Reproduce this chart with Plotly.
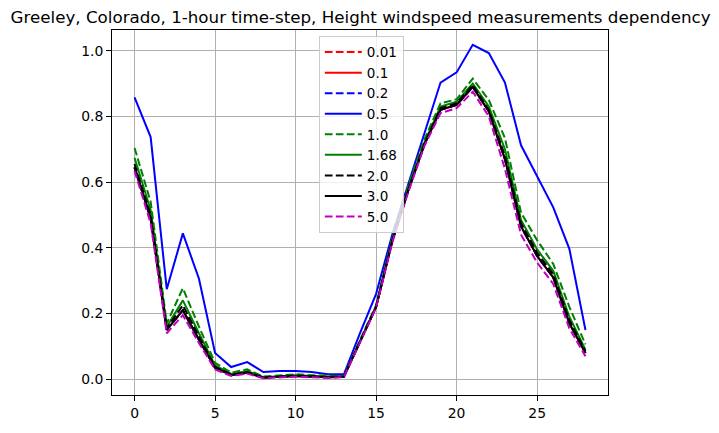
import plotly.graph_objects as go

hours = list(range(29))

heights = ["0.01", "0.1", "0.2", "0.5", "1.0", "1.68", "2.0", "3.0", "5.0"]
colors = ["#ff0000", "#ff0000", "#0000ff", "#0000ff", "#008000", "#008000", "#000000", "#000000", "#bf00bf"]
dashed = [True, False, True, False, True, False, True, False, True]

h3_0 = [0.645, 0.49, 0.15, 0.21, 0.12, 0.035, 0.013, 0.02, 0.005, 0.008, 0.01, 0.008, 0.006, 0.008,
        0.115, 0.22, 0.42, 0.575, 0.715, 0.82, 0.835, 0.89, 0.815, 0.67, 0.465, 0.375, 0.31, 0.17, 0.08]
h0_01 = list(h3_0)
h0_1 = list(h3_0)
h0_2 = list(h3_0)
h0_5 = [0.858, 0.737, 0.274, 0.444, 0.306, 0.080, 0.037, 0.052, 0.022, 0.025, 0.025, 0.022, 0.015, 0.015,
        0.14, 0.26, 0.44, 0.593, 0.75, 0.903, 0.934, 1.018, 0.993, 0.903, 0.712, 0.615, 0.523, 0.397, 0.150]
h1_0 = [0.704, 0.54, 0.17, 0.277, 0.16, 0.05, 0.02, 0.03, 0.008, 0.012, 0.015, 0.012, 0.01, 0.01,
        0.12, 0.225, 0.43, 0.59, 0.73, 0.84, 0.852, 0.915, 0.85, 0.734, 0.507, 0.423, 0.351, 0.22, 0.106]
h1_68 = [0.674, 0.515, 0.16, 0.24, 0.14, 0.042, 0.016, 0.025, 0.006, 0.01, 0.012, 0.01, 0.008, 0.009,
         0.118, 0.222, 0.425, 0.58, 0.72, 0.83, 0.845, 0.9, 0.83, 0.70, 0.485, 0.395, 0.33, 0.19, 0.09]
h2_0 = [0.655, 0.5, 0.155, 0.225, 0.13, 0.038, 0.014, 0.022, 0.005, 0.009, 0.011, 0.009, 0.007, 0.008,
        0.116, 0.221, 0.422, 0.577, 0.717, 0.825, 0.84, 0.895, 0.82, 0.68, 0.475, 0.385, 0.32, 0.18, 0.085]
h5_0 = [0.634, 0.475, 0.14, 0.195, 0.11, 0.03, 0.01, 0.017, 0.003, 0.006, 0.008, 0.006, 0.004, 0.006,
        0.112, 0.218, 0.415, 0.57, 0.71, 0.81, 0.825, 0.875, 0.80, 0.64, 0.44, 0.355, 0.29, 0.155, 0.07]

series = [h0_01, h0_1, h0_2, h0_5, h1_0, h1_68, h2_0, h3_0, h5_0]

fig = go.Figure()
for name, col, d, ys in zip(heights, colors, dashed, series):
    fig.add_trace(go.Scatter(
        x=hours, y=ys, mode="lines", name=name,
        line=dict(color=col, width=2, dash="7.7px,3.3px" if d else "solid"),
    ))

font = "DejaVu Sans"
axis_common = dict(
    showgrid=True, gridcolor="#b0b0b0", gridwidth=0.8,
    showline=True, linecolor="black", linewidth=1, mirror=True,
    ticks="outside", ticklen=5, tickwidth=1, tickcolor="black",
    zeroline=False, tickfont=dict(family=font, size=13.9, color="black"),
)
fig.update_xaxes(range=[-1.4, 29.4], tickvals=[0, 5, 10, 15, 20, 25], **axis_common)
fig.update_yaxes(range=[-0.048, 1.063], tickvals=[0, 0.2, 0.4, 0.6, 0.8, 1.0],
                 tickformat=".1f", **axis_common)

fig.update_layout(
    width=719, height=433,
    margin=dict(l=112, r=111, t=30, b=34),
    plot_bgcolor="white", paper_bgcolor="white",
    title=dict(text="Greeley, Colorado, 1-hour time-step, Height windspeed measurements dependency",
               x=0.5015, xanchor="center", y=0.96, yanchor="middle",
               font=dict(family=font, size=16.7, color="black")),
    legend=dict(x=0.417, y=0.984, xanchor="left", yanchor="top",
                bgcolor="rgba(255,255,255,0.8)", bordercolor="#cccccc", borderwidth=1,
                font=dict(family=font, size=13.5, color="black"),
                itemwidth=37, tracegroupgap=0),
    showlegend=True,
)

fig.write_html("out.html")
